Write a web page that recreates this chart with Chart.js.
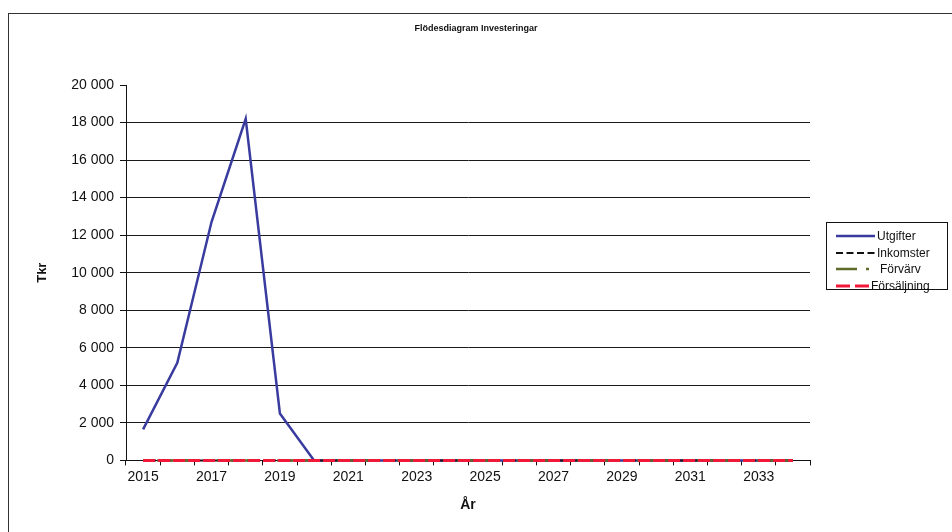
<!DOCTYPE html>
<html lang="sv">
<head>
<meta charset="utf-8">
<title>Flödesdiagram Investeringar</title>
<script src="https://cdn.jsdelivr.net/npm/chart.js@4/dist/chart.umd.min.js"></script>
<style>
    html, body { margin: 0; padding: 0; background: #fff; }
    #wrap { position: relative; width: 952px; height: 532px; overflow: hidden; }
    #frame {
        position: absolute; left: 8px; top: 13px; right: -5px; bottom: -5px;
        border-left: 1px solid #333; border-top: 1px solid #333;
    }
    #title {
        position: absolute; left: 0; width: 952px; top: 23px; text-align: center;
        font-family: "Liberation Sans", Arial, sans-serif; font-size: 9px; font-weight: bold; color: #111;
    }
    #legend {
        position: absolute; left: 826px; top: 222px; width: 122px; height: 68px;
        border: 1px solid #111; background: #fff; box-sizing: border-box;
        font-family: "Liberation Sans", Arial, sans-serif; font-size: 12px; color: #111;
        padding-top: 5px;
    }
    .item { display: flex; align-items: center; height: 16.5px; padding-left: 9px; white-space: nowrap; }
</style>
</head>
<body>
<div id="wrap">
    <div id="frame"></div>
    <canvas id="flowChart" width="952" height="532"></canvas>
    <div id="title">Flödesdiagram Investeringar</div>
    <div id="legend"></div>
</div>
<script>
// år 2015–2034
const years = ["2015", "2016", "2017", "2018", "2019", "2020", "2021", "2022", "2023", "2024",
               "2025", "2026", "2027", "2028", "2029", "2030", "2031", "2032", "2033", "2034"];

// Tkr per år
const utgifter    = [1650, 5200, 12700, 18200, 2500, 0, 0, 0, 0, 0, 0, 0, 0, 0, 0, 0, 0, 0, 0, 0];
const inkomster   = [0, 0, 0, 0, 0, 0, 0, 0, 0, 0, 0, 0, 0, 0, 0, 0, 0, 0, 0, 0];
const forvarv     = [0, 0, 0, 0, 0, 0, 0, 0, 0, 0, 0, 0, 0, 0, 0, 0, 0, 0, 0, 0];
const forsaljning = [0, 0, 0, 0, 0, 0, 0, 0, 0, 0, 0, 0, 0, 0, 0, 0, 0, 0, 0, 0];

const yMin = 0;
const yMax = 20000;
const yStep = 2000;

// legendDash = hur linjen ser ut i legendrutan
const seriesStyle = [
    { label: "Utgifter",    data: utgifter,    color: "#393c9e", dash: [],            legendDash: [],              sampleW: 39, width: 2.5, order: 4 },
    { label: "Inkomster",   data: inkomster,   color: "#111111", dash: [5, 3],        legendDash: [7, 3.5],        sampleW: 39, width: 2,   order: 3 },
    { label: "Förvärv",     data: forvarv,     color: "#5e6b2a", dash: [10, 4, 2, 4], legendDash: [21, 9, 3, 20],  sampleW: 42, width: 2.5, order: 2 },
    { label: "Försäljning", data: forsaljning, color: "#f0193a", dash: [12, 3],       legendDash: [14, 5],         sampleW: 33, width: 3,   order: 1 }
];

function fmtTkr(v) {
    return String(v).replace(/\B(?=(\d{3})+(?!\d))/g, " ");
}

const font = "'Liberation Sans', Arial, sans-serif";

new Chart(document.getElementById("flowChart"), {
    type: "line",
    data: {
        labels: years,
        datasets: seriesStyle.map((s) => ({
            label: s.label,
            data: s.data,
            borderColor: s.color,
            backgroundColor: s.color,
            borderWidth: s.width,
            borderDash: s.dash,
            pointRadius: 0,
            tension: 0,
            fill: false,
            clip: 4,
            order: s.order
        }))
    },
    options: {
        responsive: false,
        animation: false,
        events: [],
        layout: { padding: { left: 31, right: 142, top: 85, bottom: 14 } },
        scales: {
            x: {
                offset: true,
                border: { color: "#111", width: 1 },
                grid: { drawOnChartArea: false, drawTicks: true, tickLength: 5, tickColor: "#111", offset: true },
                ticks: {
                    autoSkip: false,
                    maxRotation: 0,
                    padding: 3,
                    color: "#111",
                    font: { family: font, size: 14 },
                    callback: function (val, i) { return i % 2 === 0 ? this.getLabelForValue(val) : ""; }
                },
                title: { display: true, text: "År", color: "#111", font: { family: font, size: 14, weight: "bold" }, padding: { top: 9 } }
            },
            y: {
                min: yMin,
                max: yMax,
                border: { color: "#111", width: 1 },
                grid: {
                    color: (ctx) => (ctx.tick && (ctx.tick.value === yMax || ctx.tick.value === yMin) ? "rgba(0,0,0,0)" : "#1a1a1a"),
                    tickColor: "#111",
                    tickLength: 6,
                    lineWidth: 1
                },
                ticks: {
                    stepSize: yStep,
                    padding: 6,
                    color: "#111",
                    font: { family: font, size: 14 },
                    callback: (v) => fmtTkr(v)
                },
                title: { display: true, text: "Tkr", color: "#111", font: { family: font, size: 13, weight: "bold" }, padding: { bottom: 0 } },
                afterFit: (scale) => { scale.width = 95; }
            }
        },
        plugins: {
            legend: { display: false },
            tooltip: { enabled: false },
            title: { display: false }
        }
    }
});

// legenden som HTML
const legendEl = document.getElementById("legend");
seriesStyle.forEach((s) => {
    const row = document.createElement("div");
    row.className = "item";
    const sample = document.createElement("canvas");
    sample.width = s.sampleW; sample.height = 6;
    sample.style.marginRight = "2px";
    const c = sample.getContext("2d");
    c.strokeStyle = s.color;
    c.lineWidth = s.width;
    c.setLineDash(s.legendDash);
    c.beginPath(); c.moveTo(0, 3); c.lineTo(s.sampleW, 3); c.stroke();
    row.appendChild(sample);
    const txt = document.createElement("span");
    txt.textContent = s.label;
    row.appendChild(txt);
    legendEl.appendChild(row);
});
</script>
</body>
</html>
